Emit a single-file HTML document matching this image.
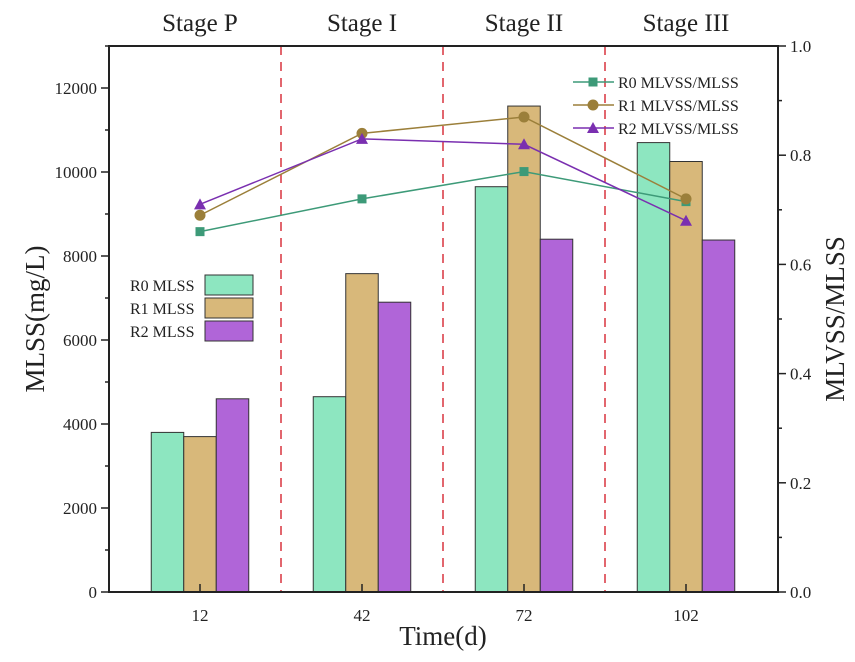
<!DOCTYPE html>
<html><head><meta charset="utf-8"><style>
body{margin:0;background:#fff}
svg text{font-family:"Liberation Serif",serif;fill:#222}
</style></head><body>
<svg id="c" width="855" height="657"></svg>
<script>
const categories=["12","42","72","102"];
const stages=["Stage P","Stage I","Stage II","Stage III"];
const r0Mlss=[3800,4650,9650,10700];
const r1Mlss=[3700,7580,11570,10250];
const r2Mlss=[4600,6900,8400,8380];
const r0Ratio=[0.66,0.72,0.77,0.715];
const r1Ratio=[0.69,0.84,0.87,0.72];
const r2Ratio=[0.71,0.83,0.82,0.68];
const leftTicks=[0,2000,4000,6000,8000,10000,12000];
const rightTicks=[0.0,0.2,0.4,0.6,0.8,1.0];
const NS="http://www.w3.org/2000/svg";
const svg=document.getElementById('c');
const L=109,R=778,T=46,B=592;
const yL=v=>B-(v/13000)*(B-T);
const yR=v=>B-v*(B-T);
const xC=i=>200+i*162;
function mk(tag,attrs,parent){const e=document.createElementNS(NS,tag);for(const k in attrs)e.setAttribute(k,attrs[k]);(parent||svg).appendChild(e);return e;}
function txt(s,attrs){const e=mk('text',attrs);e.textContent=s;return e;}
// dashed separators
for(let i=0;i<3;i++){const x=(xC(i)+xC(i+1))/2;const e=mk('line',{x1:x,x2:x,y1:T,y2:B,stroke:'#d9343f','stroke-width':1.5,'stroke-dasharray':'9,7'});

}
// bars
const bw=32.5;const cols=['#8de6c0','#d8b87a','#b065d8'];const series=[r0Mlss,r1Mlss,r2Mlss];
series.forEach((s,si)=>s.forEach((v,i)=>{const x=xC(i)-bw*1.5+si*bw;const e=mk('rect',{x:x,y:yL(v),width:bw,height:B-yL(v),fill:cols[si],stroke:'#333','stroke-width':1});

}));
// lines
const lcols=['#3d9a78','#9b7f3a','#7a2fb0'];const ratios=[r0Ratio,r1Ratio,r2Ratio];
ratios.forEach((s,si)=>{const pts=s.map((v,i)=>xC(i)+','+yR(v)).join(' ');const p=mk('polyline',{points:pts,fill:'none',stroke:lcols[si],'stroke-width':1.5});


s.forEach((v,i)=>{marker(si,xC(i),yR(v));});});
function marker(si,x,y){let e;if(si==0)e=mk('rect',{x:x-4.5,y:y-4.5,width:9,height:9,fill:lcols[0]});else if(si==1)e=mk('circle',{cx:x,cy:y,r:5.5,fill:lcols[1]});else e=mk('polygon',{points:`${x},${y-6} ${x-6},${y+5} ${x+6},${y+5}`,fill:lcols[2]});

return e;}
// axes frame
const f=mk('path',{d:`M${L},${T}H${R}V${B}H${L}Z`,fill:'none',stroke:'#222','stroke-width':2});


leftTicks.forEach(v=>{const y=yL(v);mk('line',{x1:L-8,x2:L,y1:y,y2:y,stroke:'#222','stroke-width':1.5});mk('line',{x1:L-4,x2:L,y1:yL(v+1000),y2:yL(v+1000),stroke:'#222','stroke-width':1.5});const t=txt(v,{x:L-12,y:y+6,'font-size':17,'text-anchor':'end'});

});
rightTicks.forEach(v=>{const y=yR(v);mk('line',{x1:R,x2:R+8,y1:y,y2:y,stroke:'#222','stroke-width':1.5});if(v<1)mk('line',{x1:R,x2:R+4,y1:yR(v+0.1),y2:yR(v+0.1),stroke:'#222','stroke-width':1.5});const t=txt(v.toFixed(1),{x:R+12,y:y+6,'font-size':17});

});
categories.forEach((c,i)=>{mk('line',{x1:xC(i),x2:xC(i),y1:B-8,y2:B,stroke:'#222','stroke-width':1.5});const t=txt(c,{x:xC(i),y:B+29,'font-size':17,'text-anchor':'middle'});


const s=txt(stages[i],{x:xC(i),y:31,'font-size':25,'text-anchor':'middle'});

});
let t=txt('Time(d)',{x:443,y:645,'font-size':27,'text-anchor':'middle'});

t=txt('MLSS(mg/L)',{x:0,y:0,'font-size':27,'text-anchor':'middle',transform:`translate(44,${(T+B)/2}) rotate(-90)`});

t=txt('MLVSS/MLSS',{x:0,y:0,'font-size':27,'text-anchor':'middle',transform:`translate(844,${(T+B)/2}) rotate(-90)`});

// legends
const bl=['R0 MLSS','R1 MLSS','R2 MLSS'];
bl.forEach((s,i)=>{const y=285+i*23;const r=mk('rect',{x:205,y:y-10,width:48,height:20,fill:cols[i],stroke:'#333','stroke-width':1});

const tt=txt(s,{x:130,y:y+6,'font-size':16});
});
const ll=['R0 MLVSS/MLSS','R1 MLVSS/MLSS','R2 MLVSS/MLSS'];
ll.forEach((s,i)=>{const y=82+i*23;mk('line',{x1:573,x2:614,y1:y,y2:y,stroke:lcols[i],'stroke-width':1.5});marker(i,593,y);
const tt=txt(s,{x:618,y:y+6,'font-size':16});
});
</script>
</body></html>
